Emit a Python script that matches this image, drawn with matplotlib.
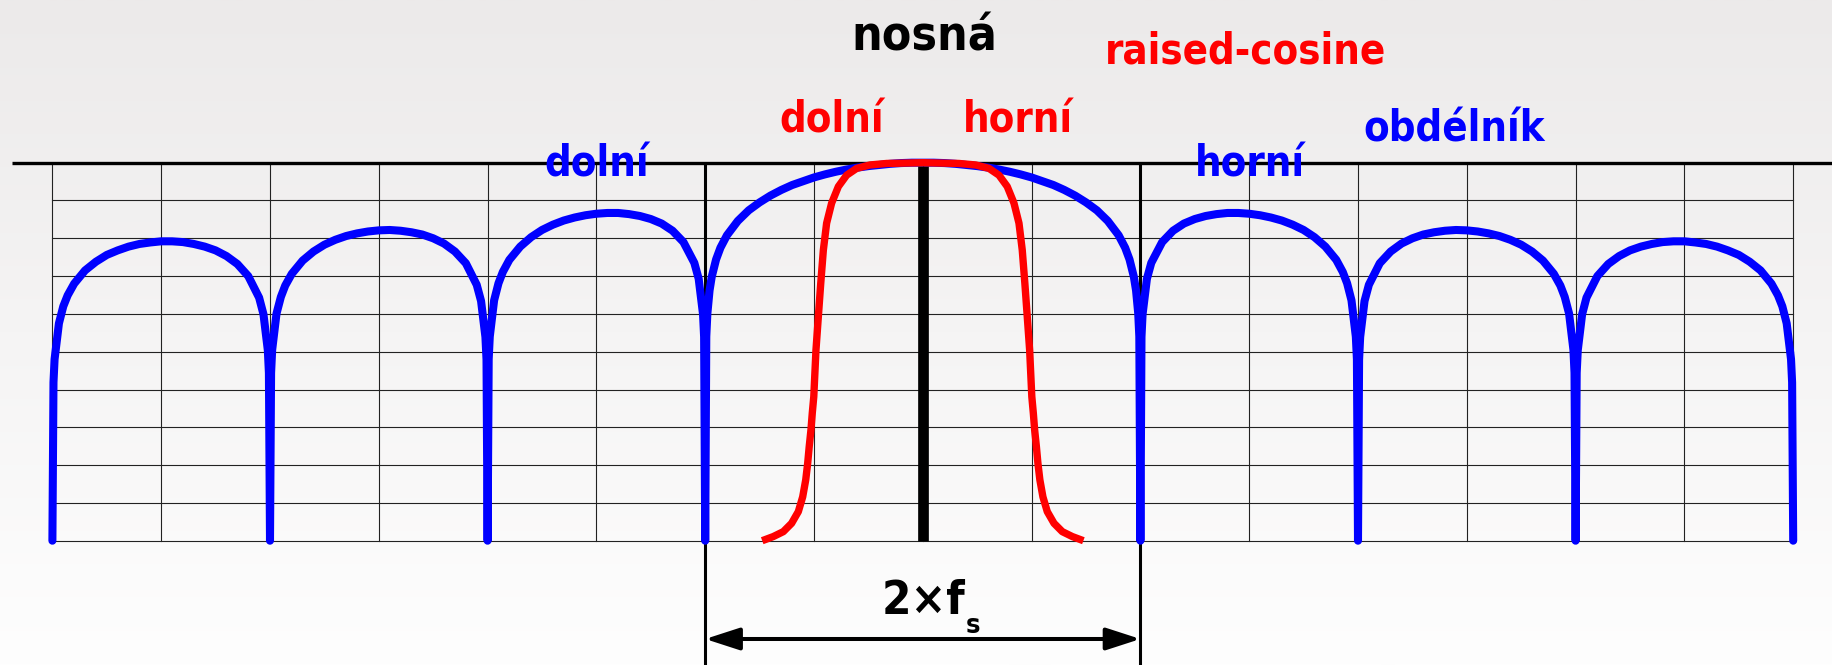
import numpy as np
import matplotlib
matplotlib.use("Agg")
import matplotlib.pyplot as plt
from matplotlib.patches import FancyArrowPatch, ArrowStyle

# ---------------- data (frequency in multiples of fs, level in dB) ----------------
# rectangular-pulse ("obdélník") spectrum, right half (mirrored for the left half)
rect_f_half = [0.0, 0.05, 0.1, 0.15, 0.2, 0.25, 0.3, 0.35, 0.4, 0.45, 0.5, 0.55, 0.6, 0.65, 0.7,
               0.75, 0.8, 0.85, 0.9, 0.93, 0.95, 0.97, 0.98, 0.99, 0.995, 1.0,
               1.005, 1.01, 1.03, 1.05, 1.1, 1.15, 1.2, 1.25, 1.3, 1.35, 1.4, 1.45, 1.5, 1.55, 1.6,
               1.65, 1.7, 1.75, 1.8, 1.85, 1.9, 1.93, 1.95, 1.97, 1.99, 1.995, 2.0,
               2.005, 2.01, 2.03, 2.05, 2.1, 2.15, 2.2, 2.25, 2.3, 2.35, 2.4, 2.45, 2.5, 2.55, 2.6,
               2.65, 2.7, 2.75, 2.8, 2.85, 2.9, 2.93, 2.95, 2.97, 2.99, 2.995, 3.0,
               3.005, 3.01, 3.03, 3.05, 3.1, 3.15, 3.2, 3.25, 3.3, 3.35, 3.4, 3.45, 3.5, 3.55, 3.6,
               3.65, 3.7, 3.75, 3.8, 3.85, 3.9, 3.93, 3.95, 3.97, 3.99, 3.995, 4.0]
rect_db_half = [0.0, -0.0, -0.1, -0.3, -0.6, -0.9, -1.3, -1.8, -2.4, -3.1, -3.9, -4.9, -5.9, -7.2, -8.7,
                -10.5, -12.6, -15.4, -19.2, -22.5, -25.6, -30.2, -33.8, -39.9, -46.0, -100,
                -46.1, -40.1, -30.7, -26.5, -21.0, -18.0, -16.1, -14.9, -14.1, -13.6, -13.3, -13.3, -13.5, -13.9, -14.5,
                -15.3, -16.4, -17.8, -19.7, -22.2, -25.7, -28.9, -31.9, -36.4, -46.0, -52.0, -100,
                -52.1, -46.1, -36.6, -32.3, -26.6, -23.5, -21.4, -20.0, -19.0, -18.4, -18.0, -17.8, -17.9, -18.2, -18.7,
                -19.4, -20.4, -21.7, -23.5, -25.9, -29.4, -32.5, -35.5, -39.9, -49.5, -55.6, -100,
                -55.6, -49.6, -40.1, -35.7, -30.0, -26.8, -24.7, -23.2, -22.2, -21.5, -21.0, -20.8, -20.8, -21.1, -21.5,
                -22.2, -23.2, -24.4, -26.2, -28.5, -32.0, -35.1, -38.0, -42.5, -52.0, -58.1, -100]

# raised-cosine spectrum, left half (mirrored for the right half)
rc_f_half = [-0.738, -0.687, -0.641, -0.603, -0.572, -0.552, -0.538, -0.529, -0.522, -0.514,
             -0.508, -0.501, -0.491, -0.480, -0.469, -0.457, -0.442, -0.419, -0.388, -0.350,
             -0.304, -0.243, -0.166, 0.0]
rc_db_half = [-100.0, -98.9, -97.6, -95.4, -92.3, -88.4, -83.9, -79.5, -75.1, -70.7,
              -66.3, -61.9, -49.6, -40.7, -31.9, -23.1, -16.0, -10.7, -6.3, -3.3,
              -1.5, -0.6, -0.2, 0.0]

carrier_f = 0.0
carrier_db = [0.0, -100.0]
bandwidth_edges = [-1.0, 1.0]

labels = [
    ("nosná", 0.008, 29.6, "black", 34.5),
    ("raised-cosine", 1.481, 26.3, "#ff0000", 30),
    ("dolní", -0.419, 7.9, "#ff0000", 30),
    ("horní", 0.436, 7.9, "#ff0000", 30),
    ("dolní", -1.499, -3.7, "#0000ff", 30),
    ("horní", 1.505, -3.7, "#0000ff", 30),
    ("obdélník", 2.440, 5.6, "#0000ff", 30),
]

# ---------------- figure ----------------
W, H, DPI = 1832, 665, 100
fig = plt.figure(figsize=(W / DPI, H / DPI), dpi=DPI)
ax = fig.add_axes([0, 0, 1, 1])
x0, x1 = -4.2408, 4.1783
y0, y1 = -132.88, 43.04
ax.set_xlim(x0, x1)
ax.set_ylim(y0, y1)
ax.axis("off")

# background gradient
top = np.array([236, 234, 234]) / 255.0
bot = np.array([254, 254, 254]) / 255.0
t = np.linspace(0, 1, 256)[:, None]
grad = (top[None, :] * (1 - t) + bot[None, :] * t)[:, None, :]
ax.imshow(grad, extent=[x0, x1, y0, y1], aspect="auto", zorder=0, interpolation="bilinear")

fam = ["DejaVu Sans Condensed", "DejaVu Sans"]

# grid
grid_f = np.arange(-4, 4.001, 0.5)
grid_db = np.arange(-100, 0.001, 10)
for g in grid_f:
    ax.plot([g, g], [0, -100], color="#222222", lw=0.8, zorder=1)
for g in grid_db:
    ax.plot([-4, 4], [g, g], color="#222222", lw=0.8, zorder=1)

# thick top line (0 dB)
ax.plot([-4.186, x1], [0, 0], color="black", lw=2.4, zorder=2, solid_capstyle="butt")

# bandwidth marker lines
for e in bandwidth_edges:
    ax.plot([e, e], [0, y0], color="black", lw=2.2, zorder=2, solid_capstyle="butt")

# blue spectrum
rf = np.array(rect_f_half)
rd = np.array(rect_db_half)
blue_f = np.concatenate([-rf[::-1], rf[1:]])
blue_db = np.concatenate([rd[::-1], rd[1:]])
ax.plot(blue_f, blue_db, color="#0000ff", lw=5.8, zorder=3,
        solid_joinstyle="round", solid_capstyle="round")

# carrier
ax.plot([carrier_f, carrier_f], [-1.0, carrier_db[1]], color="black", lw=7.7, zorder=4,
        solid_capstyle="butt")

# raised cosine
cf = np.array(rc_f_half)
cd = np.array(rc_db_half)
red_f = np.concatenate([cf, -cf[::-1][1:]])
red_db = np.concatenate([cd, cd[::-1][1:]])
ax.plot(red_f, red_db, color="#ff0000", lw=5.3, zorder=5,
        solid_joinstyle="round", solid_capstyle="butt")

# double arrow 2 x fs
arr = FancyArrowPatch((bandwidth_edges[0], -126.0), (bandwidth_edges[1], -126.0),
                      arrowstyle=ArrowStyle("<|-|>", head_length=21.0, head_width=6.8),
                      mutation_scale=1, lw=2.9, color="black", shrinkA=0, shrinkB=0, zorder=6)
ax.add_patch(arr)

ax.text(-0.188, -119.4, "2×f", family=fam, stretch="condensed", weight="bold",
        fontsize=34, color="black", ha="left", va="baseline", zorder=7)
ax.text(0.199, -124.4, "s", family=fam, stretch="condensed", weight="bold",
        fontsize=19.5, color="black", ha="left", va="baseline", zorder=7)

for txt, x, y, c, fs in labels:
    ax.text(x, y, txt, family=fam, stretch="condensed", weight="bold", fontsize=fs,
            color=c, ha="center", va="baseline", zorder=7)

fig.savefig("out.png", dpi=DPI)
